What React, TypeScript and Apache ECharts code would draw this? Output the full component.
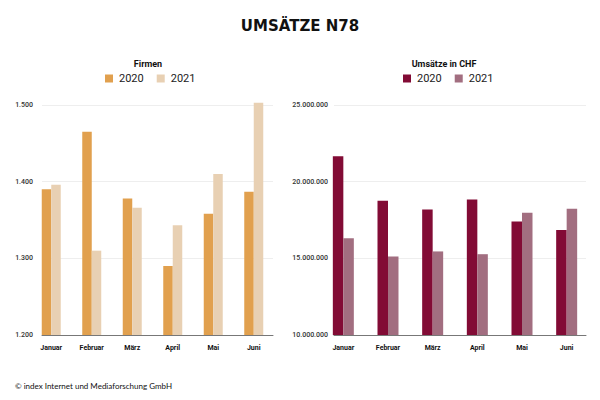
import React, { useEffect, useRef } from "react";
import * as echarts from "echarts";

const months = ["Januar", "Februar", "März", "April", "Mai", "Juni"];
const firmen2020 = [1390, 1465, 1378, 1290, 1358, 1387];
const firmen2021 = [1396, 1310, 1366, 1343, 1410, 1503];
const umsatz2020 = [21660000, 18750000, 18190000, 18840000, 17400000, 16840000];
const umsatz2021 = [16310000, 15120000, 15450000, 15270000, 17970000, 18230000];

const C_F20 = "#E1A04E";
const C_F21 = "#E8D0B3";
const C_U20 = "#820B35";
const C_U21 = "#A26E80";

const fmt = (v: number) => String(Math.round(v)).replace(/\B(?=(\d{3})+(?!\d))/g, ".");

export default function App() {
  const ref = useRef<HTMLDivElement>(null);
  useEffect(() => {
    if (!ref.current) return;
    const chart = echarts.init(ref.current, null, { renderer: "svg" });
    const labelFont = "Roboto, 'Liberation Sans', sans-serif";
    const yLabel = (margin: number) => ({
      fontSize: 7,
      color: "#333",
      fontFamily: labelFont,
      fontWeight: 500 as any,
      margin,
      formatter: (v: number) => fmt(v),
    });
    const frameX = (gridIndex: number) => ({
      type: "category" as const,
      gridIndex,
      data: months,
      axisLine: { show: true, lineStyle: { color: "#777", width: 1 } },
      axisTick: { show: false },
      axisLabel: { show: false },
      splitLine: { show: false },
    });
    const barX = (gridIndex: number) => ({
      type: "category" as const,
      gridIndex,
      data: months,
      axisLine: { show: false },
      axisTick: { show: false },
      axisLabel: {
        fontSize: 7,
        fontWeight: "bold" as const,
        color: "#111",
        fontFamily: labelFont,
        margin: 9,
      },
    });
    // bar grids extend slightly above the frame so values above the top tick are not clipped;
    // the extra height matches the frame scale (230 px per 300 units / per 15 million)
    const extraL = (230 / 300) * 20;
    const extraR = (230 / 15000000) * 1000000;
    chart.setOption({
      animation: false,
      backgroundColor: "#fff",
      title: [
        {
          text: "UMSÄTZE N78",
          left: "center",
          top: 13,
          textStyle: {
            fontSize: 15,
            fontWeight: 900,
            color: "#111",
            fontFamily: "'DejaVu Sans', sans-serif",
          },
        },
        {
          text: "Firmen",
          left: 143,
          textAlign: "center",
          top: 54,
          textStyle: { fontSize: 9, fontWeight: "bold", color: "#111", fontFamily: labelFont },
        },
        {
          text: "Umsätze in CHF",
          left: 439,
          textAlign: "center",
          top: 54,
          textStyle: { fontSize: 9, fontWeight: "bold", color: "#111", fontFamily: labelFont },
        },
        {
          text: "© index Internet und Mediaforschung GmbH",
          left: 10,
          top: 377,
          textStyle: { fontSize: 8, fontWeight: "normal", color: "#111", fontFamily: "Lato, sans-serif" },
        },
      ],
      legend: [
        {
          left: 100,
          top: 68,
          itemWidth: 8,
          itemHeight: 8,
          itemGap: 13,
          icon: "rect",
          textStyle: { fontSize: 11, color: "#222", fontFamily: labelFont, padding: [0, 0, 0, 1] },
          data: [
            { name: "2020", itemStyle: { color: C_F20 } },
            { name: "2021", itemStyle: { color: C_F21 } },
          ],
          selectedMode: false,
        },
        {
          left: 398,
          top: 68,
          itemWidth: 8,
          itemHeight: 8,
          itemGap: 13,
          icon: "rect",
          textStyle: { fontSize: 11, color: "#222", fontFamily: labelFont, padding: [0, 0, 0, 1] },
          data: [
            { name: "2020", itemStyle: { color: C_U20 } },
            { name: "2021", itemStyle: { color: C_U21 } },
          ],
          selectedMode: false,
        },
      ],
      grid: [
        { left: 42, width: 231, top: 105, bottom: 65 },
        { left: 31, width: 243, top: 105 - extraL, bottom: 65 },
        { left: 334, width: 252, top: 105, bottom: 65 },
        { left: 321, width: 268, top: 105 - extraR, bottom: 65 },
      ],
      xAxis: [frameX(0), barX(1), frameX(2), barX(3)],
      yAxis: [
        {
          type: "value",
          gridIndex: 0,
          min: 1200,
          max: 1500,
          interval: 100,
          axisLine: { show: false },
          axisTick: { show: false },
          axisLabel: yLabel(9),
          splitLine: { lineStyle: { color: "#eeeeee", width: 1 } },
        },
        { type: "value", gridIndex: 1, min: 1200, max: 1520, show: false },
        {
          type: "value",
          gridIndex: 2,
          min: 10000000,
          max: 25000000,
          interval: 5000000,
          axisLine: { show: false },
          axisTick: { show: false },
          axisLabel: yLabel(6),
          splitLine: { lineStyle: { color: "#eeeeee", width: 1 } },
        },
        { type: "value", gridIndex: 3, min: 10000000, max: 26000000, show: false },
      ],
      series: [
        {
          name: "2020",
          type: "bar",
          xAxisIndex: 1,
          yAxisIndex: 1,
          data: firmen2020,
          barWidth: 9.5,
          barGap: "0%",
          itemStyle: { color: C_F20 },
        },
        {
          name: "2021",
          type: "bar",
          xAxisIndex: 1,
          yAxisIndex: 1,
          data: firmen2021,
          barWidth: 9.5,
          barGap: "0%",
          itemStyle: { color: C_F21 },
        },
        {
          name: "2020",
          type: "bar",
          xAxisIndex: 3,
          yAxisIndex: 3,
          data: umsatz2020,
          barWidth: 10.5,
          barGap: "0%",
          itemStyle: { color: C_U20 },
        },
        {
          name: "2021",
          type: "bar",
          xAxisIndex: 3,
          yAxisIndex: 3,
          data: umsatz2021,
          barWidth: 10.5,
          barGap: "0%",
          itemStyle: { color: C_U21 },
        },
      ],
    });
    return () => chart.dispose();
  }, []);
  return (
    <div
      ref={ref}
      style={{ position: "fixed", left: 0, top: 0, width: 600, height: 400, background: "#fff" }}
    />
  );
}
